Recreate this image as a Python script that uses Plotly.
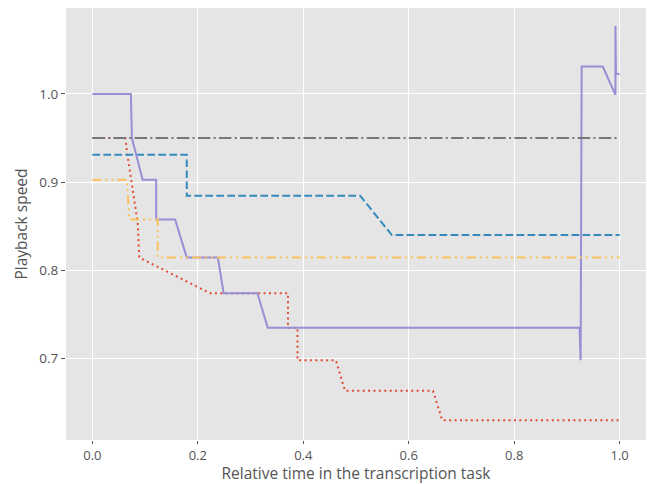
import plotly.graph_objects as go

# Series data (relative time, playback speed)
red_x = [0, 0.0625, 0.066, 0.072, 0.078, 0.083, 0.086, 0.088, 0.089, 0.2235, 0.371, 0.371, 0.389, 0.389, 0.462, 0.479, 0.646, 0.6635, 1.0]
red_y = [0.95, 0.95, 0.933, 0.910, 0.886, 0.869, 0.854, 0.827, 0.8145, 0.774, 0.774, 0.735, 0.735, 0.698, 0.698, 0.6634, 0.6634, 0.6302, 0.6302]

blue_x = [0, 0.179, 0.179, 0.508, 0.568, 1.0]
blue_y = [0.931, 0.931, 0.8845, 0.8845, 0.840, 0.840]

purple_x = [0, 0.073, 0.075, 0.0953, 0.121, 0.121, 0.157, 0.179, 0.238, 0.249, 0.313, 0.3326, 0.924, 0.926, 0.928, 0.968, 0.992, 0.992, 0.993, 1.0]
purple_y = [1.0, 1.0, 0.95, 0.9026, 0.9026, 0.8577, 0.8577, 0.8145, 0.8145, 0.774, 0.774, 0.735, 0.735, 0.698, 1.031, 1.031, 0.999, 1.077, 1.0226, 1.0226]

gray_x = [0, 1.0]
gray_y = [0.95, 0.95]

yellow_x = [0, 0.0655, 0.070, 0.124, 0.124, 1.0]
yellow_y = [0.9026, 0.9026, 0.8577, 0.8577, 0.8145, 0.8145]

x_ticks = [0.0, 0.2, 0.4, 0.6, 0.8, 1.0]
y_ticks = [0.7, 0.8, 0.9, 1.0]

series = [
    (red_x, red_y, "#E24A33", "2px,3.4px"),
    (blue_x, blue_y, "#348ABD", "7.7px,3.3px"),
    (purple_x, purple_y, "#988ED5", "solid"),
    (gray_x, gray_y, "#777777", "12.5px,3.3px,2px,3.3px"),
    (yellow_x, yellow_y, "#FBC15E", "9px,4px,2px,4px,2px,4px"),
]

fig = go.Figure()
for xs, ys, color, dash in series:
    fig.add_trace(go.Scatter(x=xs, y=ys, mode="lines",
                             line=dict(color=color, width=2, dash=dash),
                             showlegend=False, hoverinfo="skip"))

font_family = "Open Sans"
fig.update_layout(
    width=647, height=484,
    margin=dict(l=66, r=1, t=8, b=44),
    paper_bgcolor="white",
    plot_bgcolor="#E5E5E5",
    font=dict(family=font_family, color="#555555", size=13),
)
fig.update_xaxes(
    range=[-0.05, 1.05], tickvals=x_ticks, tickformat=".1f",
    showgrid=True, gridcolor="white", gridwidth=1, zeroline=False,
    ticks="outside", ticklen=3, tickcolor="#555555", tickwidth=1,
    tickfont=dict(size=13, color="#555555"),
    title=dict(text="Relative time in the transcription task", font=dict(size=15.5, color="#555555"), standoff=4),
    showline=False, automargin=False,
)
fig.update_yaxes(
    range=[0.6077, 1.0974], tickvals=y_ticks, tickformat=".1f",
    showgrid=True, gridcolor="white", gridwidth=1, zeroline=False,
    ticks="outside", ticklen=4, tickcolor="#555555", tickwidth=1,
    tickfont=dict(size=13.5, color="#555555"),
    title=dict(text="Playback speed", font=dict(size=15.5, color="#555555"), standoff=7),
    showline=False, automargin=False,
)

fig.write_html("out.html", config={"displayModeBar": False},
               post_script="document.body.style.margin='0';document.body.style.overflow='hidden';")
